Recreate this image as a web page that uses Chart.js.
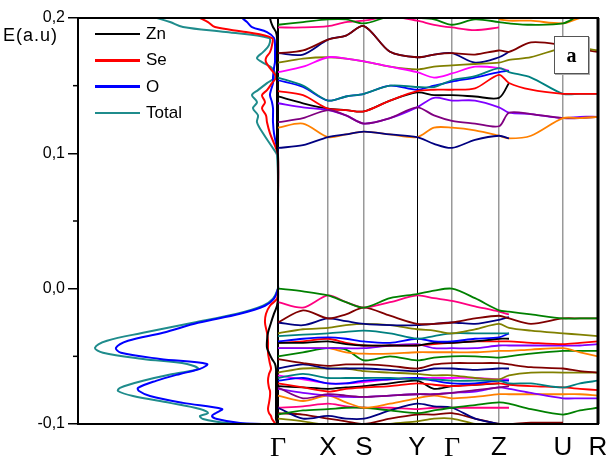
<!DOCTYPE html>
<html>
<head>
<meta charset="UTF-8">
<title>DOS and band structure</title>
<script src="https://cdn.jsdelivr.net/npm/chart.js"></script>
<style>
  body { margin: 0; background: #fff; }
  .wrap { position: relative; width: 608px; height: 457px; font-family: "Liberation Sans", Arial, sans-serif; }
  #chart { position: absolute; left: 0; top: 0; }
  .ylab { position: absolute; left: 3px; top: 25px; font-size: 18px; letter-spacing: 1px; color: #000; }
  .tag { position: absolute; left: 554px; top: 36px; width: 33px; height: 36px; border: 1px solid #555;
         background: #fff; box-shadow: 1px 1px 0 #aaa; font: bold 20px "Liberation Serif", serif;
         display: flex; align-items: center; justify-content: center; }
  .legend { position: absolute; left: 95px; top: 24px; }
  .legend div { display: flex; align-items: center; height: 20px; margin-bottom: 6.3px; font-size: 17px; color: #000; }
  .legend span.sw { display: inline-block; width: 45px; height: 2.5px; margin-right: 6px; }
</style>
</head>
<body>
<div class="wrap">
  <canvas id="chart" width="608" height="457"></canvas>
  <div class="ylab">E(a.u)</div>
  <div class="tag">a</div>
  <div class="legend" id="legend"></div>
</div>
<script>
// density of states, E in a.u. (x1000), densities in arbitrary units
const dosEnergy = [200,197,193.3,189.6,185.2,180,174.8,170.4,167.4,163,156.3,151.9,146.7,143,137.8,133.3,128.1,123,114.8,103.7,
  98.5,65.2,28.1,2.2,0,-7.4,-12.6,-18.5,-25.2,-32.6,-38.5,-43.7,-47.4,-51.9,-55.6,-59.3,-63,-68.1,-73.3,-75.6,
  -79.3,-84.4,-88.9,-91.9,-94.1,-96.3,-99.3,-100];
const dosZn = [8,7,5,2,1,1,1,1,1,1, 1,1,1,1,1,1,1,1,1,1, 0,0,0,0,0,0,1,4,7,10, 11,11,9,6,3,2,2,2,2,2, 2,2,2,2,2,2,1,1];
const dosSe = [78,70,63,32,6,6,8,12,12,8, 2,6,11,16,13,16,12,11,8,2, 0,0,0,0,0,1,8,12,13,11, 10,10,10,9,8,7,9,10,9,8, 8,9,10,9,7,6,3,2];
const dosO = [36,31,26,11,4,3,3,3,3,4, 5,5,7,8,6,5,5,5,4,1, 0,0,0,0,0,4,13,38,80,115, 150,162,157,118,71,78,98,122,140,139, 128,95,56,62,66,61,38,16];
const dosTotal = [121,108,95,52,9,9,15,21,16,6, 3,11,20,26,21,25,20,21,15,5, 1,0,0,0,0,5,15,41,85,135, 171,183,175,135,91,80,105,135,158,160, 145,108,78,70,78,75,51,28];

const dosLabels = ["Zn", "Se", "O", "Total"];
const dosColors = ["#000000", "#ff0000", "#0000ff", "#1f8c8c"];

// k path
const kPath = [0, 50, 86, 139, 174, 221, 285, 320];
const kLabels = ["Γ", "X", "S", "Y", "Γ", "Z", "U", "R"];
const kGrid = [0, 25, 50, 68, 86, 112, 139, 156, 174, 197, 221, 231, 253, 285, 302, 320];

// bands, E x1000 at kGrid points
const bands = [
  [104,106,112,114,116,114,112,107,104,110,113,111,null,null,null,null],
  [119,122,112,114,116,114,112,119,119,117,113,111,113,126,126,127],
  [123,126,132,128,122,126,134,128,124,122,120,130,129,126,126,127],
  [137,134,132,128,122,126,134,141,139,139,134,130,129,126,127,127],
  [146,143,133,132,131,139,146,147,147,148,158,152,147,144,144,144],
  [142,137,133,132,131,139,145,143,143,142,141,152,null,null,null,null],
  [156,150,139,142,144,150,149,149,154,157,163,160,156,144,144,144],
  [154,149,139,142,144,150,147,150,153,156,160,161,null,null,null,null],
  [160,164,171,170,168,164,160,156,159,164,163,161,null,null,null,null],
  [167,170,171,170,168,164,162,164,165,166,167,169,171,178,178,176],
  [174,176,184,187,194,175,171,173,174,173,176,175,182,180,177,175],
  [174,173,184,187,194,175,171,173,174,167,171,175,null,null,null,null],
  [195,197,199,199,196,201,200,199,195,199,197,196,195,196,202,204],
  [193,193,194,197,198,201,198,195,193,191,193,null,null,null,null,null],
  [null,null,null,null,null,null,null,null,null,null,199,198,198,196,200,202],
  [0,-2,-5,-10,-14,-7,-4,-1.5,0,-7,-16,-17,-19,-22,-22,-22],
  [-10,-14,-5,-10,-14,-10,-5,-7,-9,-13,-17,-19,null,null,null,null],
  [-25,-16,-22,-19,-14,-20,-26,-26,-25,-22,-20,-22,-26,-22,-22,-22],
  [-25,-27,-22,-24,-26,-27,-27,-26,-25,-26,-23,-21,null,null,null,null],
  [-33,-30,-29,-27,-26,-27,-30,-31,-33,-30,-26,-29,-31,-33,-34,-35],
  [-35,-34,-33,-32,-31,-33,-37,-35,-33,-33,-33,-33,null,null,null,null],
  [-39,-37,-36,-37,-39,-40,-37,-39,-39,-37,-36,-33,null,null,null,null],
  [-40,-40,-39,-41,-42,-42,-42,-40,-40,-39,-37,-37,null,null,null,null],
  [-40,-39,-37,-40,-42,-42,-42,-41,-40,-39,-39,-39,-40,-41,-40,-39],
  [-44,-44,-44,-44,-44,-42,-41,-44,-44,-44,-42,-42,-42,-42,-42,-41],
  [-44,-44,-44,-47,-48,-48,-47,-47,-47,-47,-46,-46,-45,-44,-47,-50],
  [-50,-47,-44,-45,-53,-50,-53,-51,-50,-50,-51,-50,-48,-46,-46,-46],
  [-52,-55,-57,-56,-56,-57,-59,-56,-55,-55,-55,-56,-58,-59,-61,-62],
  [-59,-56,-59,-59,-59,-60,-61,-59,-59,-60,-59,-59,null,null,null,null],
  [-62,-59,-59,-59,-61,-62,-63,-64,-64,-66,-67,-64,-62,-62,-62,-62],
  [-66,-63,-66,-66,-66,-66,-67,-67,-68,-68,-68,-70,-70,-73,-70,-68],
  [-68,-66,-70,-70,-68,-67,-66,-68,-70,-70,-68,-68,null,null,null,null],
  [-64,-67,-70,-70,-69,-67,-66,-66,-66,-66,-67,-67,null,null,null,null],
  [-70,-73,-76,-74,-73,-72,-70,-71,-72,-71,-70,-71,-72,-73,-74,-75],
  [-72,-73,-74,-73,-72,-70,-68,-74,-72,-71,-70,null,null,null,null,null],
  [-73,-81,-78,-79,-80,-79,-78,-78,-77,-75,-73,-72,null,null,null,null],
  [-74,-77,-79,-80,-80,-79,-78,-78,-77,-76,-73,-74,-77,-81,-81,-81],
  [-79,-83,-79,-84,-88,-85,-81,-79,-81,-80,-78,-78,-78,-78,-78,-79],
  [-93,-90,-89,-88,-88,-90,-92,-90,-88,-86,-84,-85,-89,-93,-90,-88],
  [-88,-96,-94,-96,-96,-90,-85,-87,-88,-96,-100,null,null,null,null,null],
  [-92,-93,-96,-98,-100,-96,-93,-93,-92,-96,-100,-100,-99,-99,null,null],
  [-96,-98,-101,-103,-104,-100,-98,-96,-96,-100,-103,null,null,null,null,null],
  [-88,-87,-85,-87,-88,-88,-89,-88,-88,-88,-88,-88,null,null,null,null]
];
const bandColors = [
  "#000080","#ff8000","#800080","#8000ff","#ff0000","#000000","#008080","#0000ff","#ff00ff","#808000",
  "#800000","#000080","#008000","#ff0080","#ff8000",
  "#008000","#ff0080","#800000","#000080","#808000","#008080","#0000ff","#000000","#ff0000","#8000ff",
  "#ff8000","#008000","#800000","#000080","#808000","#008080","#0000ff","#ff00ff","#ff0000","#000000",
  "#800080","#8000ff","#ff8000","#008000","#000080","#800000","#808000","#ff0080"
];
const yMinorTicks = [0.15, 0.05, -0.05];

const dosValues = [dosZn, dosSe, dosO, dosTotal];
const datasets = dosValues.map((vals, k) => ({
  label: dosLabels[k],
  data: vals.map((d, i) => ({ x: -d, y: dosEnergy[i] / 1000 })),
  borderColor: dosColors[k], backgroundColor: dosColors[k],
  borderWidth: 2, showLine: true, pointRadius: 0, tension: 0.35, clip: 0
}));
bands.forEach((b, j) => {
  datasets.push({
    label: "band" + j,
    data: b.map((e, i) => ({ x: kGrid[i], y: e === null ? null : e / 1000 })),
    borderColor: bandColors[j], backgroundColor: bandColors[j],
    borderWidth: 1.8, showLine: true, pointRadius: 0, tension: 0.3, clip: 0, spanGaps: false
  });
});

// legend as html
const legendBox = document.getElementById("legend");
dosLabels.forEach((name, k) => {
  const row = document.createElement("div");
  row.innerHTML = '<span class="sw" style="background:' + dosColors[k] + '"></span>' + name;
  legendBox.appendChild(row);
});

const frame = {
  id: "frame",
  afterDraw(chart) {
    const { ctx, chartArea: a } = chart;
    const y = chart.scales.y;
    ctx.save();
    ctx.strokeStyle = "#000";
    ctx.lineWidth = 2;
    ctx.strokeRect(a.left, a.top, a.right - a.left, a.bottom - a.top);
    ctx.lineWidth = 3;
    ctx.beginPath();
    ctx.moveTo(a.right, a.top);
    ctx.lineTo(a.right, a.bottom);
    ctx.stroke();
    // minor ticks on the energy axis
    ctx.lineWidth = 1.5;
    yMinorTicks.forEach(v => {
      const py = y.getPixelForValue(v);
      ctx.beginPath();
      ctx.moveTo(a.left - 5, py);
      ctx.lineTo(a.left, py);
      ctx.stroke();
    });
    ctx.restore();
  }
};

new Chart(document.getElementById("chart"), {
  type: "scatter",
  data: { datasets: datasets },
  plugins: [frame],
  options: {
    responsive: false,
    animation: false,
    devicePixelRatio: 1,
    layout: { padding: { top: 18, right: 10, left: 0, bottom: 0 } },
    plugins: {
      tooltip: { enabled: false },
      legend: { display: false }
    },
    scales: {
      x: {
        type: "linear",
        min: -200, max: 320,
        afterFit: (s) => { s.height = 33; s.paddingLeft = 0; s.paddingRight = 0; },
        afterBuildTicks: (s) => { s.ticks = kPath.map(v => ({ value: v })); },
        ticks: {
          autoSkip: false, maxRotation: 0, padding: 8, color: "#000",
          callback: (v, i) => kLabels[i],
          font: (c) => kLabels[c.index] === "Γ"
            ? { family: "'Liberation Serif', serif", size: 28 }
            : { family: "'Liberation Sans', Arial, sans-serif", size: 26 }
        },
        grid: {
          drawTicks: false,
          color: (c) => (c.tick && (c.tick.value === 0 || c.tick.value === 139)) ? "#000" : "#999",
          lineWidth: (c) => (c.tick && c.tick.value === 0) ? 2 : (c.tick && c.tick.value === 139 ? 1 : 1.5)
        },
        border: { display: true, color: "#000", width: 2 }
      },
      y: {
        type: "linear",
        min: -0.1, max: 0.2,
        afterFit: (s) => { s.width = 78; s.paddingTop = 0; s.paddingBottom = 0; },
        ticks: {
          stepSize: 0.1, padding: 3, color: "#000",
          font: { family: "'Liberation Sans', Arial, sans-serif", size: 16 },
          callback: (v) => (Math.round(v * 10) / 10).toFixed(1).replace(".", ",")
        },
        grid: { drawOnChartArea: false, drawTicks: true, tickLength: 10, color: "#000", lineWidth: 1.5 },
        border: { display: true, color: "#000", width: 2 }
      }
    }
  }
});
</script>
</body>
</html>
